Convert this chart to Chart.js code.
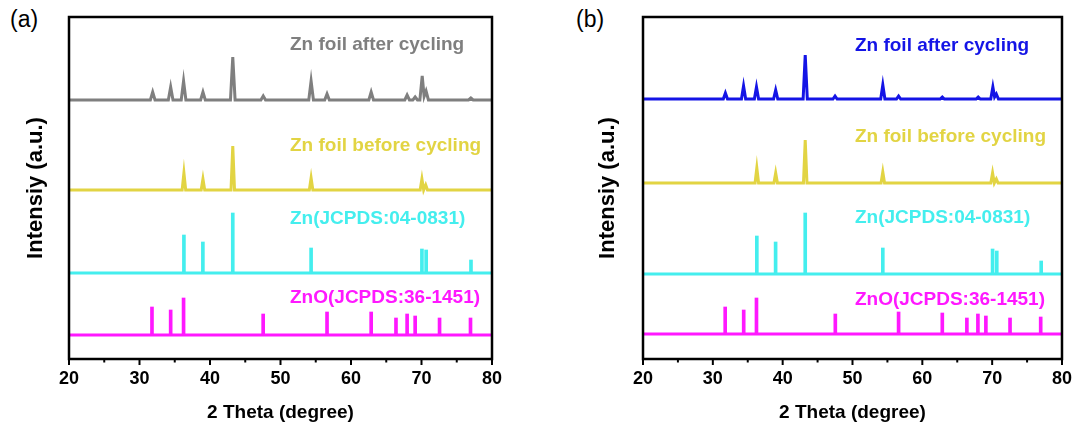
<!DOCTYPE html>
<html>
<head>
<meta charset="utf-8">
<script src="https://cdn.jsdelivr.net/npm/chart.js"></script>
<style>
  body { margin: 0; background: #fff; width: 1081px; height: 425px; position: relative; overflow: hidden; font-family: "Liberation Sans", Arial, sans-serif; }
  canvas { position: absolute; top: 0; }
  #chartA { left: 0; }
  #chartB { left: 540px; }
  .tag { position: absolute; font-size: 23px; color: #000; }
</style>
</head>
<body>
<div class="tag" style="left:10px;top:6px">(a)</div>
<div class="tag" style="left:576px;top:6px">(b)</div>
<canvas id="chartA" width="540" height="425"></canvas>
<canvas id="chartB" width="541" height="425"></canvas>
<script>
const xTicks = [20, 30, 40, 50, 60, 70, 80];
const seriesNames = ['Zn foil after cycling', 'Zn foil before cycling', 'Zn(JCPDS:04-0831)', 'ZnO(JCPDS:36-1451)'];

// reference cards (2 theta / relative height)
const znPos = [36.30, 38.99, 43.23, 54.34, 70.06, 70.66, 77.02];
const znHeightA = [38, 31, 60, 25, 24, 23, 13];
const znHeightB = [38, 32, 61, 26, 25, 23, 13];
const znoPos = [31.77, 34.42, 36.25, 47.54, 56.60, 62.86, 66.38, 67.96, 69.10, 72.56, 76.95];
const znoHeightA = [28, 25, 37, 21, 23, 23, 17, 21, 19, 17, 17];
const znoHeightB = [27, 24, 36, 20, 22, 21, 16, 20, 18, 16, 17];

const afterPosA = [31.87, 34.42, 36.25, 39.0, 43.23, 47.55, 54.34, 56.6, 62.86, 67.96, 69.1, 70.1, 70.65, 77.0];
const afterHeightA = [8, 13, 19, 8, 43, 4, 19, 6, 8, 5, 3, 24, 9, 2];
const beforePosA = [36.3, 39.0, 43.23, 54.34, 70.06, 70.6];
const beforeHeightA = [17, 11, 44, 12, 11, 5];
const afterPosB = [31.8, 34.4, 36.25, 39.0, 43.23, 47.5, 54.34, 56.6, 62.86, 68.0, 70.1, 70.6];
const afterHeightB = [6, 13, 12, 9, 44, 3, 14, 3, 2, 2, 12, 5];
const beforePosB = [36.3, 39.0, 43.23, 54.34, 70.06, 70.6];
const beforeHeightB = [15, 10, 43, 11, 10, 4];

// stacking offsets, top pattern first
const offsetsA = [259, 169, 86, 24];
const offsetsB = [260, 176, 85, 25];

Chart.defaults.font.family = '"Liberation Sans", Arial, sans-serif';
Chart.defaults.color = '#000';

function peakLine(pos, h, base, half) {
  const pts = [{x: 20, y: base}];
  pos.forEach((p, i) => {
    const prev = pts[pts.length - 1];
    if (p - half > prev.x) {
      pts.push({x: p - half, y: base});
    } else {
      // overlapping peaks: keep a shallow valley between them
      prev.x = (pos[i - 1] + p) / 2;
      prev.y = base + Math.min(h[i], h[i - 1]) * 0.4;
    }
    pts.push({x: p, y: base + h[i]});
    pts.push({x: p + half, y: base});
  });
  pts.push({x: 80, y: base});
  return pts;
}

function sticks(pos, h, base) {
  return pos.map((p, i) => ({x: p, y: [base, base + h[i]]}));
}

function flat(base) {
  return [{x: 20, y: base}, {x: 80, y: base}];
}

const framePlugin = {
  id: 'frame',
  afterDraw(chart) {
    const {ctx, chartArea: a, scales: {x}} = chart;
    ctx.save();
    ctx.strokeStyle = '#000';
    ctx.lineWidth = 2.5;
    ctx.strokeRect(a.left, a.top, a.right - a.left, a.bottom - a.top);
    ctx.lineWidth = 2;
    for (let v = 20; v <= 80; v += 5) {
      const px = x.getPixelForValue(v);
      ctx.beginPath();
      ctx.moveTo(px, a.bottom);
      ctx.lineTo(px, a.bottom + (v % 10 === 0 ? 6 : 3.5));
      ctx.stroke();
    }
    ctx.restore();
  }
};

const labelPlugin = {
  id: 'seriesLabels',
  afterDatasetsDraw(chart, args, opts) {
    const {ctx, scales: {x, y}} = chart;
    ctx.save();
    ctx.font = 'bold 19px "Liberation Sans", Arial, sans-serif';
    ctx.textBaseline = 'middle';
    opts.items.forEach(it => {
      ctx.fillStyle = it.color;
      ctx.fillText(it.text, x.getPixelForValue(it.x), y.getPixelForValue(it.y));
    });
    ctx.restore();
  }
};

function lineSet(data, color, width) {
  return {type: 'line', data: data, borderColor: color, borderWidth: width, pointRadius: 0, tension: 0, fill: false};
}

function barSet(data, color) {
  return {type: 'bar', data: data, backgroundColor: color, barThickness: 3, grouped: false};
}

function makePanel(id, p) {
  const colors = p.colors;
  new Chart(document.getElementById(id), {
    type: 'line',
    data: {
      datasets: [
        lineSet(peakLine(p.afterPos, p.afterHeight, p.offsets[0], p.afterHalf), colors[0], 3),
        lineSet(peakLine(p.beforePos, p.beforeHeight, p.offsets[1], 0.25), colors[1], 3),
        barSet(sticks(znPos, p.znHeight, p.offsets[2]), colors[2]),
        lineSet(flat(p.offsets[2]), colors[2], 3),
        barSet(sticks(znoPos, p.znoHeight, p.offsets[3]), colors[3]),
        lineSet(flat(p.offsets[3]), colors[3], 3)
      ]
    },
    options: {
      responsive: false,
      animation: false,
      layout: {padding: {top: 17, right: p.padRight, bottom: 0, left: 0}},
      plugins: {
        legend: {display: false},
        tooltip: {enabled: false},
        seriesLabels: {
          items: seriesNames.map((t, i) => ({text: t, color: colors[i], x: p.labelX, y: p.labelY[i]}))
        }
      },
      scales: {
        x: {
          type: 'linear', min: 20, max: 80, offset: false,
          afterBuildTicks: s => { s.ticks = xTicks.map(v => ({value: v})); },
          afterFit: s => { s.height = 66; },
          grid: {display: false, drawTicks: false},
          border: {display: false},
          ticks: {font: {size: 18, weight: 'bold'}, color: '#000', padding: 9, maxRotation: 0},
          title: {display: true, text: '2 Theta (degree)', font: {size: 19, weight: 'bold'}, color: '#000', padding: {top: 0, bottom: 1}}
        },
        y: {
          min: 0, max: 342,
          afterFit: s => { s.width = p.axisWidth; },
          grid: {display: false, drawTicks: false},
          border: {display: false},
          ticks: {display: false},
          title: {display: true, text: 'Intensiy (a.u.)', font: {size: 22, weight: 'bold'}, color: '#000', padding: {top: p.titlePad, bottom: 0}}
        }
      }
    },
    plugins: [framePlugin, labelPlugin]
  });
}

makePanel('chartA', {
  colors: ['#7f7f7f', '#e2d443', '#44eeee', '#ff18ff'],
  afterPos: afterPosA, afterHeight: afterHeightA, afterHalf: 0.33,
  beforePos: beforePosA, beforeHeight: beforeHeightA,
  znHeight: znHeightA, znoHeight: znoHeightA,
  offsets: offsetsA,
  labelX: 51.35, labelY: [314, 213, 140, 61],
  padRight: 48, axisWidth: 69, titlePad: 23
});

makePanel('chartB', {
  colors: ['#1414e6', '#e2d443', '#44eeee', '#ff18ff'],
  afterPos: afterPosB, afterHeight: afterHeightB, afterHalf: 0.3,
  beforePos: beforePosB, beforeHeight: beforeHeightB,
  znHeight: znHeightB, znoHeight: znoHeightB,
  offsets: offsetsB,
  labelX: 50.35, labelY: [313, 222, 141, 59],
  padRight: 15, axisWidth: 103, titlePad: 55
});
</script>
</body>
</html>
